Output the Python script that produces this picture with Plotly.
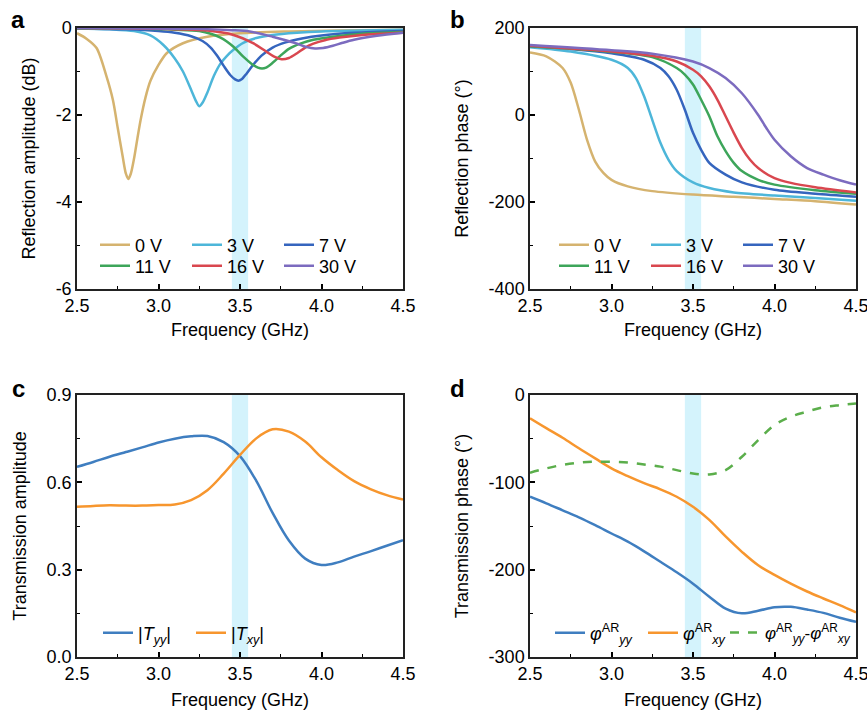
import plotly.graph_objects as go

W, H = 867, 712

# ---- panel a: reflection amplitude (dB) ----
f_a_0v = [2.5, 2.56, 2.62, 2.68, 2.72, 2.75, 2.78, 2.8, 2.815, 2.83, 2.85, 2.87, 2.89, 2.92,
          2.95, 3.0, 3.05, 3.15, 3.3, 3.5, 3.8, 4.1, 4.5]
amp_0v = [-0.12, -0.25, -0.46, -1.1, -1.65, -2.3, -2.95, -3.35, -3.47, -3.35, -3.0, -2.55, -2.12,
          -1.6, -1.22, -0.85, -0.58, -0.35, -0.2, -0.12, -0.08, -0.06, -0.04]
f_a_3v = [2.5, 2.7, 2.85, 2.95, 3.03, 3.1, 3.15, 3.2, 3.23, 3.25, 3.27, 3.3, 3.34, 3.38, 3.42,
          3.46, 3.52, 3.6, 3.7, 3.85, 4.0, 4.25, 4.5]
amp_3v = [-0.01, -0.03, -0.07, -0.17, -0.39, -0.7, -1.0, -1.42, -1.68, -1.8, -1.72, -1.48, -1.1,
          -0.82, -0.64, -0.5, -0.34, -0.23, -0.16, -0.11, -0.08, -0.06, -0.04]
f_a_7v = [2.5, 2.8, 3.0, 3.1, 3.2, 3.27, 3.32, 3.36, 3.4, 3.44, 3.47, 3.49, 3.51, 3.54, 3.58,
          3.63, 3.7, 3.78, 3.88, 4.0, 4.2, 4.5]
amp_7v = [-0.01, -0.03, -0.07, -0.11, -0.19, -0.3, -0.45, -0.64, -0.87, -1.08, -1.18, -1.21,
          -1.18, -1.05, -0.85, -0.64, -0.45, -0.33, -0.24, -0.17, -0.11, -0.07]
f_a_11v = [2.5, 2.9, 3.1, 3.25, 3.38, 3.46, 3.52, 3.57, 3.61, 3.635, 3.66, 3.7, 3.75, 3.8,
           3.87, 3.95, 4.07, 4.25, 4.5]
amp_11v = [-0.01, -0.02, -0.04, -0.07, -0.22, -0.43, -0.66, -0.82, -0.91, -0.93, -0.91, -0.8,
           -0.63, -0.48, -0.36, -0.27, -0.2, -0.13, -0.09]
f_a_16v = [2.5, 3.0, 3.3, 3.46, 3.58, 3.66, 3.71, 3.755, 3.8, 3.85, 3.9, 3.95, 4.02, 4.11,
           4.25, 4.5]
amp_16v = [-0.0, -0.02, -0.06, -0.16, -0.35, -0.54, -0.66, -0.72, -0.69, -0.58, -0.45, -0.36,
           -0.28, -0.22, -0.16, -0.11]
f_a_30v = [2.5, 3.2, 3.45, 3.56, 3.7, 3.78, 3.85, 3.91, 3.96, 4.01, 4.07, 4.13, 4.2, 4.34, 4.5]
amp_30v = [-0.0, -0.02, -0.05, -0.08, -0.2, -0.28, -0.36, -0.44, -0.47, -0.46, -0.41, -0.34,
           -0.27, -0.18, -0.11]

# ---- panel b: reflection phase (deg) ----
f_b_0v = [2.5, 2.6, 2.7, 2.75, 2.8, 2.85, 2.9, 2.95, 3.0, 3.1, 3.25, 3.5, 3.75, 4.0, 4.25, 4.5]
ph_0v = [144, 135, 108, 74, 12, -57, -107, -133, -149, -164, -175, -183, -188, -193, -198, -206]
f_b_3v = [2.5, 2.75, 3.0, 3.1, 3.15, 3.2, 3.25, 3.3, 3.35, 3.4, 3.5, 3.6, 3.75, 4.0, 4.25, 4.5]
ph_3v = [156, 146, 127, 108, 85, 43, -11, -64, -103, -129, -155, -168, -178, -185, -191, -197]
f_b_7v = [2.5, 2.75, 3.0, 3.2, 3.3, 3.35, 3.4, 3.45, 3.5, 3.55, 3.6, 3.7, 3.8, 4.0, 4.25, 4.5]
ph_7v = [158, 152, 142, 127, 108, 89, 58, 12, -41, -80, -110, -137, -155, -172, -181, -188]
f_b_11v = [2.5, 3.0, 3.25, 3.4, 3.45, 3.5, 3.55, 3.6, 3.65, 3.7, 3.75, 3.8, 3.9, 4.0, 4.25, 4.5]
ph_11v = [158, 145, 133, 108, 93, 70, 35, -3, -49, -83, -110, -129, -149, -160, -173, -181]
f_b_16v = [2.5, 3.0, 3.25, 3.4, 3.5, 3.55, 3.6, 3.65, 3.7, 3.75, 3.8, 3.85, 3.9, 4.0, 4.1,
           4.25, 4.5]
ph_16v = [159, 146, 136, 123, 104, 89, 66, 35, -3, -41, -76, -103, -122, -145, -156, -166, -178]
f_b_30v = [2.5, 3.0, 3.25, 3.5, 3.6, 3.7, 3.8, 3.9, 3.95, 4.0, 4.1, 4.2, 4.3, 4.4, 4.5]
ph_30v = [161, 149, 141, 123, 108, 85, 50, 0, -30, -57, -95, -122, -137, -150, -160]

# ---- panels c, d: transmission ----
freq_t = [2.5, 2.6, 2.7, 2.8, 2.9, 3.0, 3.1, 3.2, 3.3, 3.4, 3.5, 3.6, 3.7, 3.8, 3.9, 4.0,
          4.1, 4.2, 4.3, 4.4, 4.5]
t_yy = [0.653, 0.670, 0.688, 0.704, 0.720, 0.737, 0.750, 0.758, 0.759, 0.738, 0.690, 0.605,
        0.495, 0.400, 0.338, 0.316, 0.325, 0.345, 0.363, 0.382, 0.401]
t_xy = [0.516, 0.519, 0.521, 0.520, 0.520, 0.522, 0.524, 0.539, 0.573, 0.630, 0.694, 0.751,
        0.782, 0.774, 0.740, 0.686, 0.642, 0.604, 0.577, 0.556, 0.541]
phi_yy = [-116.5, -124, -132, -140, -149, -158.6, -168, -179, -191, -203, -216, -231, -244.6,
          -250, -247, -243, -242.6, -245.7, -249.5, -255, -259.8]
phi_xy = [-26.7, -38, -49, -61, -72.6, -84, -93, -101, -108, -116.5, -128, -143, -162, -179.6,
          -195, -206, -216, -225, -233, -240.7, -249]
phi_diff = [-89, -84, -80, -77.5, -76.4, -76.5, -77.2, -79.5, -82, -86, -90, -91, -86, -70.7,
            -51.6, -34.4, -24.8, -19, -14, -11.5, -9.6]

volt_names = ["0 V", "3 V", "7 V", "11 V", "16 V", "30 V"]
volt_colors = ["#D5B36F", "#4DB6D9", "#3565BE", "#3DA55A", "#D9474F", "#7C6BBF"]
band = [3.45, 3.55]

FONT = "Liberation Sans, Arial, sans-serif"


def px_x(p):
    return p / W


def px_y(p):
    return 1 - p / H


fig = go.Figure()

amp_sets = [(f_a_0v, amp_0v), (f_a_3v, amp_3v), (f_a_7v, amp_7v),
            (f_a_11v, amp_11v), (f_a_16v, amp_16v), (f_a_30v, amp_30v)]
ph_sets = [(f_b_0v, ph_0v), (f_b_3v, ph_3v), (f_b_7v, ph_7v),
           (f_b_11v, ph_11v), (f_b_16v, ph_16v), (f_b_30v, ph_30v)]

for i, (fx, fy) in enumerate(amp_sets):
    fig.add_trace(go.Scatter(
        x=fx, y=fy, mode="lines", name=volt_names[i],
        line=dict(color=volt_colors[i], width=2.5, shape="spline", smoothing=0.8),
        xaxis="x", yaxis="y", legend="legend" if i < 3 else "legend2",
    ))
for i, (fx, fy) in enumerate(ph_sets):
    fig.add_trace(go.Scatter(
        x=fx, y=fy, mode="lines", name=volt_names[i],
        line=dict(color=volt_colors[i], width=2.5, shape="spline", smoothing=0.8),
        xaxis="x2", yaxis="y2", legend="legend3" if i < 3 else "legend4",
    ))

fig.add_trace(go.Scatter(
    x=freq_t, y=t_yy, mode="lines", name="|<i>T</i><sub><i>yy</i></sub>|",
    line=dict(color="#3F7EC0", width=2.5, shape="spline"), xaxis="x3", yaxis="y3", legend="legend5",
))
fig.add_trace(go.Scatter(
    x=freq_t, y=t_xy, mode="lines", name="|<i>T</i><sub><i>xy</i></sub>|",
    line=dict(color="#F7962E", width=2.5, shape="spline"), xaxis="x3", yaxis="y3", legend="legend5",
))
fig.add_trace(go.Scatter(
    x=freq_t, y=phi_yy, mode="lines", name="<i>φ</i><sup>AR</sup><sub><i>yy</i></sub>",
    line=dict(color="#3F7EC0", width=2.5, shape="spline"), xaxis="x4", yaxis="y4", legend="legend6",
))
fig.add_trace(go.Scatter(
    x=freq_t, y=phi_xy, mode="lines", name="<i>φ</i><sup>AR</sup><sub><i>xy</i></sub>",
    line=dict(color="#F7962E", width=2.5, shape="spline"), xaxis="x4", yaxis="y4", legend="legend6",
))
fig.add_trace(go.Scatter(
    x=freq_t, y=phi_diff, mode="lines",
    name="<i>φ</i><sup>AR</sup><sub><i>yy</i></sub>-<i>φ</i><sup>AR</sup><sub><i>xy</i></sub>",
    line=dict(color="#5BAE4B", width=2.5, dash="dash", shape="spline"),
    xaxis="x4", yaxis="y4", legend="legend7",
))

# highlighted operating band
for xa, ya in [("x", "y"), ("x2", "y2"), ("x3", "y3"), ("x4", "y4")]:
    fig.add_shape(type="rect", xref=xa, yref=ya + " domain", x0=band[0], x1=band[1], y0=0, y1=1,
                  fillcolor="#D4F3FC", line_width=0, layer="below")


def xaxis_style(domain, anchor):
    return dict(
        domain=domain, anchor=anchor, range=[2.5, 4.5], automargin=False,
        tickvals=[2.5, 3.0, 3.5, 4.0, 4.5], ticktext=["2.5", "3.0", "3.5", "4.0", "4.5"],
        ticklabeloverflow="allow",
        minor=dict(dtick=0.25, ticks="inside", ticklen=3, tickcolor="black", tickwidth=1.2),
        showline=True, linecolor="#222", linewidth=1.5, mirror=True,
        ticks="inside", ticklen=5, tickwidth=1.5, tickcolor="black",
        showgrid=False, zeroline=False,
        tickfont=dict(size=18, color="black", family=FONT),
    )


def yaxis_style(domain, anchor, rng, vals, labels, minor_dtick, title):
    return dict(
        domain=domain, anchor=anchor, range=rng, automargin=False,
        tickvals=vals, ticktext=labels,
        minor=dict(dtick=minor_dtick, ticks="inside", ticklen=3, tickcolor="black", tickwidth=1.2),
        showline=True, linecolor="#222", linewidth=1.5, mirror=True,
        ticks="inside", ticklen=5, tickwidth=1.5, tickcolor="black",
        showgrid=False, zeroline=False,
        tickfont=dict(size=18, color="black", family=FONT),
        title=dict(text=title, font=dict(size=18, color="black", family=FONT)),
    )


dx_left = [px_x(77), px_x(403)]
dx_right = [px_x(530), px_x(856)]
dy_top = [px_y(289), px_y(28)]
dy_bot = [px_y(657), px_y(395)]


def legend_style(x0, yc, ew, size=18):
    return dict(
        orientation="h", x=px_x(x0), y=px_y(yc), xanchor="left", yanchor="middle",
        bgcolor="rgba(0,0,0,0)", font=dict(size=size, color="black", family=FONT),
        entrywidth=ew, entrywidthmode="pixels", itemwidth=30, tracegroupgap=0,
    )


fig.update_layout(
    width=W, height=H,
    margin=dict(l=0, r=0, t=0, b=0, autoexpand=False),
    paper_bgcolor="white", plot_bgcolor="white",
    font=dict(family=FONT, color="black", size=18),
    xaxis=xaxis_style(dx_left, "y"),
    yaxis=yaxis_style(dy_top, "x", [-6, 0], [0, -2, -4, -6], ["0", "-2", "-4", "-6"], 1,
                      "Reflection amplitude (dB)"),
    xaxis2=xaxis_style(dx_right, "y2"),
    yaxis2=yaxis_style(dy_top, "x2", [-400, 200], [200, 0, -200, -400], ["200", "0", "-200", "-400"],
                       100, "Reflection phase (°)"),
    xaxis3=xaxis_style(dx_left, "y3"),
    yaxis3=yaxis_style(dy_bot, "x3", [0, 0.9], [0.0, 0.3, 0.6, 0.9], ["0.0", "0.3", "0.6", "0.9"],
                       0.15, "Transmission amplitude"),
    xaxis4=xaxis_style(dx_right, "y4"),
    yaxis4=yaxis_style(dy_bot, "x4", [-300, 0], [0, -100, -200, -300], ["0", "-100", "-200", "-300"],
                       50, "Transmission phase (°)"),
    legend=legend_style(95, 245, 47),
    legend2=legend_style(95, 266, 47),
    legend3=legend_style(554, 245, 47),
    legend4=legend_style(554, 266, 47),
    legend5=legend_style(98, 633, 48),
    legend6=legend_style(550, 633, 48),
    legend7=dict(legend_style(725, 633, 48, size=17), entrywidth=0),
    showlegend=True,
)

# x-axis titles, placed by hand
for cx, cy in [(240, 330), (693, 330), (240, 700), (693, 700)]:
    fig.add_annotation(
        text="Frequency (GHz)", x=px_x(cx), y=px_y(cy), xref="paper", yref="paper",
        xanchor="center", yanchor="middle", showarrow=False,
        font=dict(size=18, color="black", family=FONT),
    )

for label, x0, y0 in [("a", 18, 20), ("b", 458, 20), ("c", 18, 388), ("d", 458, 388)]:
    fig.add_annotation(
        text=f"<b>{label}</b>", x=px_x(x0), y=px_y(y0), xref="paper", yref="paper",
        xanchor="center", yanchor="middle", showarrow=False,
        font=dict(size=24, color="black", family=FONT),
    )

# drop the default body margin so the figure fills the window exactly
fig.write_html("out.html", config={"displayModeBar": False},
               post_script="document.body.style.margin='0';")
